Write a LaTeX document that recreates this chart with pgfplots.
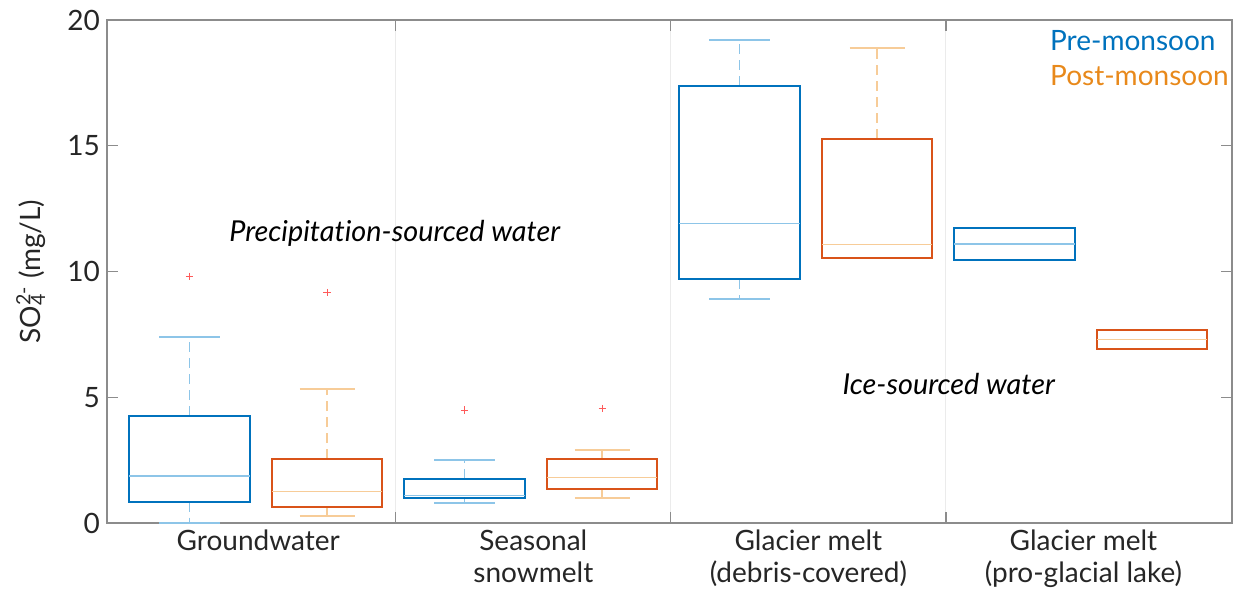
\documentclass[border=0pt]{standalone}
\usepackage{fontspec}
\setmainfont{Lato}[Ligatures=NoCommon]
\usepackage{pgfplots}
\pgfplotsset{compat=1.18}
\usepgfplotslibrary{statistics}
\definecolor{preblue}{HTML}{0072BD}
\definecolor{prelight}{HTML}{8DC5E8}
\definecolor{postorange}{HTML}{D95319}
\definecolor{postlight}{HTML}{F7CC98}
\definecolor{legorange}{HTML}{E8891B}
\definecolor{outred}{HTML}{FF5A5A}
\definecolor{axisgray}{HTML}{8C8C8C}
\definecolor{textgray}{HTML}{262626}
\definecolor{gridgray}{HTML}{EBEBEB}
\pgfplotsset{
  mybox/.style={
    boxplot/draw/lower whisker/.code={%
      \draw[/pgfplots/boxplot/every whisker/.try, line width=0.75pt, dash pattern=on 5pt off 3pt]
        (boxplot box cs:\pgfplotsboxplotvalue{lower quartile},0.5) -- (boxplot box cs:\pgfplotsboxplotvalue{lower whisker},0.5);
      \draw[/pgfplots/boxplot/every whisker/.try, line width=1pt]
        (boxplot box cs:\pgfplotsboxplotvalue{lower whisker},0.25) -- (boxplot box cs:\pgfplotsboxplotvalue{lower whisker},0.75);
    },
    boxplot/draw/upper whisker/.code={%
      \draw[/pgfplots/boxplot/every whisker/.try, line width=0.75pt, dash pattern=on 5pt off 3pt]
        (boxplot box cs:\pgfplotsboxplotvalue{upper quartile},0.5) -- (boxplot box cs:\pgfplotsboxplotvalue{upper whisker},0.5);
      \draw[/pgfplots/boxplot/every whisker/.try, line width=1pt]
        (boxplot box cs:\pgfplotsboxplotvalue{upper whisker},0.25) -- (boxplot box cs:\pgfplotsboxplotvalue{upper whisker},0.75);
    },
  },
  nolower/.style={boxplot/draw/lower whisker/.code={}},
  noupper/.style={boxplot/draw/upper whisker/.code={}},
  prebox/.style={mybox, solid,
    boxplot/every box/.style={draw=preblue, line width=1pt},
    boxplot/every median/.style={draw=prelight, line width=0.6pt},
    boxplot/every whisker/.style={draw=prelight, line width=0.6pt}},
  postbox/.style={mybox, solid,
    boxplot/every box/.style={draw=postorange, line width=1pt},
    boxplot/every median/.style={draw=postlight, line width=0.6pt},
    boxplot/every whisker/.style={draw=postlight, line width=0.6pt}},
}
\begin{document}
\begin{tikzpicture}
\begin{axis}[
  scale only axis, width=562.5pt, height=251.5pt,
  boxplot/draw direction=y,
  xmin=0.45, xmax=4.54, ymin=0, ymax=20,
  xtick={1.5,2.5,3.5}, xticklabels={},
  xmajorgrids, grid style={draw=gridgray, line width=0.5pt},
  extra x ticks={1,2,3,4},
  extra x tick labels={Groundwater,{Seasonal\\snowmelt},{Glacier melt\\(debris-covered)},{Glacier melt\\(pro-glacial lake)}},
  extra x tick style={major tick length=0pt, grid=none},
  xticklabel style={align=center, font=\fontsize{14}{16}\selectfont, text=textgray},
  yticklabel style={font=\fontsize{14}{16}\selectfont, text=textgray},
  /pgf/number format/assume math mode=true,
  ytick={0,5,10,15,20},
  tick align=inside, major tick length=5.5pt,
  axis line style={draw=axisgray, line width=0.6pt},
  tick style={draw=axisgray, line width=0.6pt},
  ylabel={SO\rlap{\textsubscript{4}}\textsuperscript{2-} (mg/L)},
  every axis y label/.style={at={(rel axis cs:0,0.5)}, xshift=-38pt, anchor=center, rotate=90, font=\fontsize{14}{16}\selectfont, text=textgray},
  clip=false,
]
\coordinate (bl) at (rel axis cs:0,0);
\coordinate (tr) at (rel axis cs:1,1);
% Groundwater
\addplot[prebox, boxplot prepared={draw position=0.75, box extend=0.44,
  lower whisker=0.01, lower quartile=0.85, median=1.87, upper quartile=4.27, upper whisker=7.41}] coordinates {};
\addplot[postbox, boxplot prepared={draw position=1.25, box extend=0.40,
  lower whisker=0.27, lower quartile=0.65, median=1.26, upper quartile=2.54, upper whisker=5.34}] coordinates {};
% Seasonal snowmelt
\addplot[prebox, boxplot prepared={draw position=1.75, box extend=0.44,
  lower whisker=0.81, lower quartile=1.01, median=1.09, upper quartile=1.76, upper whisker=2.50}] coordinates {};
\addplot[postbox, boxplot prepared={draw position=2.25, box extend=0.40,
  lower whisker=1.01, lower quartile=1.35, median=1.82, upper quartile=2.54, upper whisker=2.90}] coordinates {};
% Glacier melt debris
\addplot[prebox, boxplot prepared={draw position=2.75, box extend=0.44,
  lower whisker=8.89, lower quartile=9.69, median=11.92, upper quartile=17.38, upper whisker=19.19}] coordinates {};
\addplot[postbox, nolower, boxplot prepared={draw position=3.25, box extend=0.40,
  lower whisker=10.54, lower quartile=10.54, median=11.07, upper quartile=15.27, upper whisker=18.89}] coordinates {};
% Glacier melt pro-glacial
\addplot[prebox, nolower, noupper, boxplot prepared={draw position=3.75, box extend=0.44,
  lower whisker=10.46, lower quartile=10.46, median=11.09, upper quartile=11.74, upper whisker=11.74}] coordinates {};
\addplot[postbox, nolower, noupper, boxplot prepared={draw position=4.25, box extend=0.40,
  lower whisker=6.91, lower quartile=6.91, median=7.30, upper quartile=7.67, upper whisker=7.67}] coordinates {};
% outliers
\addplot[only marks, mark=+, mark size=1.8pt, draw=outred, mark options={line width=0.5pt}] coordinates {(0.75,9.81) (1.25,9.17) (1.75,4.49) (2.25,4.55)};
% annotations
\node[anchor=base, font=\fontsize{14.4}{16}\selectfont\itshape, text=black] at (axis cs:1.496,11.21) {Precipitation-sourced water};
\node[anchor=base, font=\fontsize{14.4}{16}\selectfont\itshape, text=black] at (axis cs:3.51,5.09) {Ice-sourced water};
\node[anchor=base west, inner sep=0pt, font=\fontsize{14}{16}\selectfont, text=preblue] at (rel axis cs:0.838,0.940) {Pre-monsoon};
\node[anchor=base west, inner sep=0pt, font=\fontsize{14}{16}\selectfont, text=legorange] at (rel axis cs:0.838,0.869) {Post-monsoon};
\end{axis}
\pgfresetboundingbox
\path ([shift={(-53.5pt,-42pt)}]bl) rectangle ([shift={(2pt,10pt)}]tr);
\end{tikzpicture}
\end{document}
